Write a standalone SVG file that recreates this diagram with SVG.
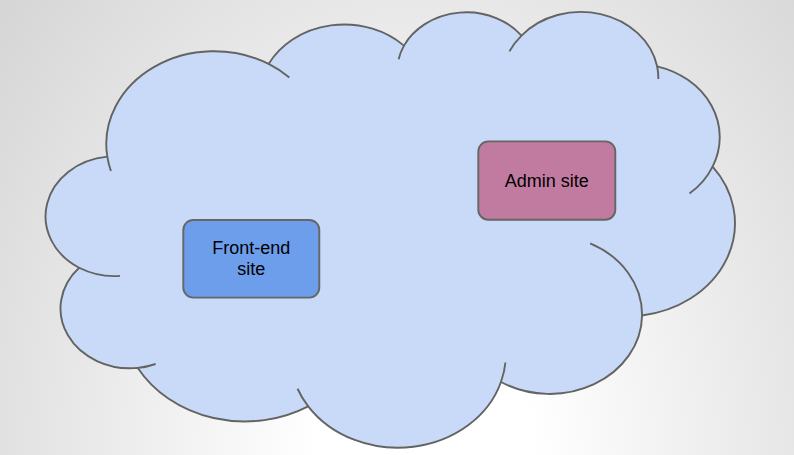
<svg xmlns="http://www.w3.org/2000/svg" width="794" height="455" viewBox="0 0 794 455">
  <defs>
    <radialGradient id="bg" gradientUnits="userSpaceOnUse" cx="0" cy="0" r="1" gradientTransform="translate(425,455) scale(540,700)">
      <stop offset="0" stop-color="#ffffff"/>
      <stop offset="0.2" stop-color="#ffffff"/>
      <stop offset="1" stop-color="#d6d6d6"/>
    </radialGradient>
    <style>
      .outline { fill: #c9daf8; stroke: #636363; stroke-width: 1.9; stroke-linejoin: round; }
      .tail { fill: none; stroke: #636363; stroke-width: 1.9; stroke-linecap: butt; }
      .box { stroke: #666666; stroke-width: 1.9; }
      .label { font-family: "Liberation Sans", Arial, sans-serif; font-size: 18px; fill: #000000; text-anchor: middle; }
    </style>
  </defs>
  <rect x="0" y="0" width="794" height="455" fill="url(#bg)"/>
  <g id="cloud">
    <path class="outline" d="M107.29,156.64 A107.86,92.82 0 0 1 268.61,63.94 A85.18,73.40 0 0 1 403.97,45.61 A69.72,60.04 0 0 1 521.53,35.57 A77.58,66.61 0 0 1 657.12,66.30 A85.18,73.46 0 0 1 712.60,166.58 A108.21,93.12 0 0 1 642.07,315.45 A92.40,79.46 0 0 1 500.96,381.99 A107.84,93.07 0 0 1 308.19,406.31 A123.31,106.48 0 0 1 137.82,367.91 A69.64,59.77 0 0 1 79.18,267.77 A69.40,60.04 0 0 1 107.29,156.64 Z"/>
    <path class="tail" d="M119.96,275.89 A69.40,60.04 0 0 1 79.18,267.77
      M155.65,363.98 A69.64,59.77 0 0 1 137.82,367.91
      M308.19,406.31 A107.84,93.07 0 0 1 297.54,388.76
      M505.44,362.49 A107.84,93.07 0 0 1 500.96,381.99
      M590.12,243.34 A92.40,79.46 0 0 1 642.07,315.45
      M712.60,166.58 A85.18,73.46 0 0 1 689.48,193.60
      M657.12,66.30 A77.58,66.61 0 0 1 658.34,79.06
      M509.44,51.42 A77.58,66.61 0 0 1 521.53,35.57
      M398.64,59.17 A69.72,60.04 0 0 1 403.97,45.61
      M268.61,63.94 A107.86,92.82 0 0 1 289.34,77.53
      M110.92,170.97 A107.86,92.82 0 0 1 107.29,156.64"/>
  </g>
  <g id="frontend">
    <rect class="box" x="183.3" y="220" width="136" height="77.6" rx="10" ry="10" fill="#6d9eeb"/>
    <text class="label" x="251.3" y="254.3">Front-end</text>
    <text class="label" x="251.3" y="275.3">site</text>
  </g>
  <g id="admin">
    <rect class="box" x="478.3" y="141.4" width="137" height="78.3" rx="10" ry="10" fill="#c27ba0"/>
    <text class="label" x="546.8" y="187">Admin site</text>
  </g>
  <g id="connectors"/>
</svg>
